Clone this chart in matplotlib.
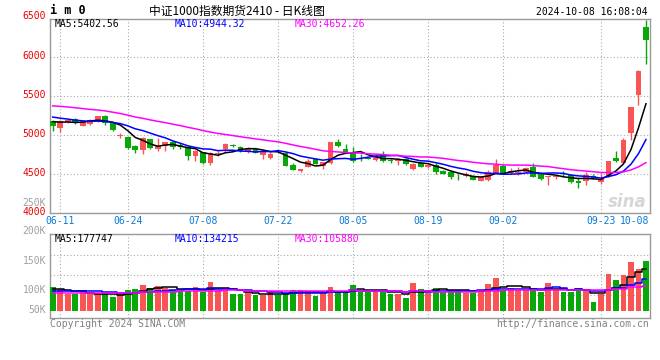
"""
IM2410 (CSI 1000 index futures) daily K-line chart, sina style.
"""

import numpy as np
import pandas as pd
import matplotlib.pyplot as plt
from matplotlib.transforms import blended_transform_factory

# daily bars 06-07 .. 10-08 (80 sessions)
opens = [5179, 5094, 5168, 5210, 5124, 5149, 5176, 5250, 5155, 4995,
         4974, 4859, 4808, 4949, 4825, 4859, 4910, 4881, 4855, 4732,
         4780, 4648, 4765, 4826, 4878, 4848, 4783, 4826, 4752, 4709,
         4785, 4770, 4617, 4539, 4596, 4691, 4604, 4639, 4909, 4826,
         4778, 4735, 4714, 4688, 4765, 4688, 4671, 4693, 4564, 4646,
         4594, 4624, 4539, 4530, 4470, 4479, 4475, 4415, 4424, 4517,
         4611, 4521, 4513, 4534, 4598, 4504, 4462, 4462, 4483, 4487,
         4410, 4419, 4479, 4406, 4483, 4713, 4649, 5024, 5515, 6380]
highs = [5190, 5200, 5200, 5222, 5200, 5209, 5251, 5264, 5170, 5030,
         4983, 4881, 4979, 4957, 4966, 4915, 4923, 4898, 4868, 4808,
         4790, 4791, 4804, 4898, 4891, 4856, 4843, 4835, 4822, 4791,
         4804, 4783, 4648, 4574, 4691, 4704, 4661, 4909, 4952, 4887,
         4851, 4757, 4722, 4765, 4799, 4700, 4714, 4714, 4650, 4660,
         4637, 4646, 4552, 4543, 4500, 4530, 4488, 4475, 4552, 4701,
         4637, 4577, 4598, 4598, 4641, 4513, 4475, 4488, 4543, 4500,
         4449, 4534, 4500, 4513, 4662, 4798, 4960, 5365, 5834, 6470]
lows = [5058, 5045, 5160, 5145, 5115, 5136, 5170, 5136, 5051, 4966,
        4821, 4770, 4766, 4821, 4795, 4795, 4825, 4825, 4689, 4676,
        4630, 4617, 4735, 4791, 4848, 4791, 4770, 4770, 4700, 4700,
        4770, 4609, 4552, 4530, 4587, 4626, 4565, 4630, 4848, 4783,
        4658, 4671, 4690, 4671, 4658, 4650, 4616, 4624, 4552, 4594,
        4586, 4509, 4500, 4445, 4432, 4466, 4424, 4415, 4415, 4517,
        4504, 4504, 4492, 4513, 4462, 4428, 4364, 4445, 4470, 4385,
        4330, 4364, 4445, 4380, 4470, 4662, 4641, 4939, 5387, 5907]
closes = [5115, 5188, 5194, 5153, 5182, 5192, 5240, 5150, 5062, 5005,
          4830, 4808, 4966, 4830, 4859, 4910, 4847, 4855, 4732, 4796,
          4650, 4769, 4772, 4891, 4856, 4800, 4822, 4770, 4804, 4761,
          4780, 4609, 4552, 4574, 4670, 4626, 4661, 4909, 4856, 4791,
          4671, 4728, 4701, 4731, 4671, 4671, 4688, 4637, 4637, 4594,
          4624, 4530, 4500, 4466, 4462, 4509, 4424, 4466, 4530, 4616,
          4504, 4543, 4534, 4577, 4470, 4440, 4479, 4479, 4475, 4406,
          4393, 4487, 4449, 4436, 4665, 4675, 4939, 5365, 5822, 6212]
# volume, thousand lots
volumes = [102, 94, 71, 71, 85, 71, 71, 75, 60, 71,
           90, 94, 111, 98, 106, 97, 90, 85, 85, 102,
           82, 124, 90, 93, 72, 72, 82, 69, 67, 79,
           69, 75, 90, 90, 85, 66, 75, 102, 85, 85,
           111, 82, 82, 90, 82, 72, 72, 54, 118, 94,
           78, 98, 82, 90, 90, 78, 78, 85, 115, 141,
           90, 99, 90, 90, 90, 82, 120, 90, 82, 82,
           94, 94, 39, 72, 158, 132, 153, 211, 180, 212]
# sessions before the window, only used to warm up the moving averages
prior_closes = [5380, 5420, 5455, 5490, 5520, 5475, 5500, 5540, 5510, 5480,
                5500, 5470, 5445, 5420, 5400, 5430, 5410, 5380, 5360, 5345,
                5330, 5310, 5290, 5270, 5260, 5210, 5190, 5180, 5165]
prior_volumes = [70, 72, 75, 70, 66, 64, 70, 74, 78, 72,
                 69, 65, 70, 72, 73, 76, 71, 68, 72, 73,
                 74, 78, 76, 80, 76, 88, 95, 90, 91]

tick_idx = [1, 10, 20, 30, 40, 50, 60, 73, 79]
tick_labels = ["06-11", "06-24", "07-08", "07-22", "08-05", "08-19",
               "09-02", "09-23", "10-08"]
price_ticks = [4000, 4500, 5000, 5500, 6000, 6500]

RED = "#fa5555"
GREEN = "#07a807"
GRID = "#aaaaaa"
MONO = "DejaVu Sans Mono"
FS = 7.0

n = len(closes)
x = np.arange(n)
o = np.array(opens)
c = np.array(closes)
up = c >= o
cols = np.where(up, RED, GREEN)

cl = pd.Series(prior_closes + closes)
vo = pd.Series(prior_volumes + volumes)
k = len(prior_closes)
ma = {w: cl.rolling(w).mean().values[k:] for w in (5, 10, 30)}
vma = {w: vo.rolling(w).mean().values[k:] for w in (5, 10, 30)}

fig = plt.figure(figsize=(6.6, 3.6), dpi=100)


def fx(px):
    return px / 660


def fy(py):
    return 1 - py / 360


ax = fig.add_axes([fx(50), fy(213.4), fx(599.5), 194.4 / 360])
axv = fig.add_axes([fx(50), fy(318), fx(599.5), 83.7 / 360])

for a in (ax, axv):
    a.set_xlim(-0.36, 79.47)
    a.set_axisbelow(True)
    a.tick_params(length=0, labelleft=False, labelbottom=False)
    for s in a.spines.values():
        s.set_color("#999999")
        s.set_linewidth(1)
    a.set_xticks(tick_idx[:-1])
    a.grid(True, color=GRID, linestyle=(0, (1, 2)), linewidth=0.8)

# price panel
ax.set_ylim(4000, 6486)
ax.set_yticks(price_ticks[1:-1])
ax.vlines(x, lows, highs, color=cols, linewidth=1, zorder=2)
body = np.maximum(np.abs(c - o), 6)
ax.bar(x, body, bottom=np.minimum(o, c), width=0.76, color=cols,
       linewidth=0, zorder=3)
ax.plot(x, ma[5], color="black", lw=1.1, zorder=4)
ax.plot(x, ma[10], color="#0000ff", lw=1.1, zorder=4)
ax.plot(x, ma[30], color="#ff00ff", lw=1.1, zorder=4)

tr = blended_transform_factory(ax.transAxes, ax.transData)
for v in price_ticks:
    ax.annotate(str(v), xy=(0, v), xycoords=tr, xytext=(-4, 1.5),
                textcoords="offset pixels", ha="right", va="center",
                color="#ee0000", fontsize=FS, family=MONO,
                annotation_clip=False)
fig.text(fx(46), fy(203), "250K", ha="right", va="center",
         color="#a0a0a0", fontsize=FS, family=MONO)

trx = blended_transform_factory(ax.transData, ax.transAxes)
for i, lbl in zip(tick_idx, tick_labels):
    ha = "right" if i == tick_idx[-1] else "center"
    xi = 79.47 if i == tick_idx[-1] else i
    ax.text(xi, -0.04, lbl, transform=trx, ha=ha, va="center",
            color="#0a78d2", fontsize=FS, family=MONO)

ax.text(0.995, 0.06, "sina", transform=ax.transAxes, ha="right",
        va="center", color="#d6d6d6", fontsize=12, fontweight="bold",
        style="italic")

fig.text(fx(55), fy(24), "MA5:5402.56", color="black", fontsize=FS,
         family=MONO, va="center")
fig.text(fx(175), fy(24), "MA10:4944.32", color="#0000ff", fontsize=FS,
         family=MONO, va="center")
fig.text(fx(295), fy(24), "MA30:4652.26", color="#ff00ff", fontsize=FS,
         family=MONO, va="center")

# volume panel
axv.set_ylim(-30, 327.5)
axv.set_yticks([68, 152, 238])
axv.bar(x, volumes, width=0.76, color=cols, linewidth=0, zorder=3)
axv.plot(x, vma[5], color="black", lw=1.1, drawstyle="steps-mid", zorder=4)
axv.plot(x, vma[10], color="#0000ff", lw=1.1, drawstyle="steps-mid",
         zorder=4)
axv.plot(x, vma[30], color="#ff00ff", lw=1.1, drawstyle="steps-mid",
         zorder=4)

for lbl, py in [("200K", 231), ("150K", 261), ("100K", 290), ("50K", 310)]:
    fig.text(fx(46), fy(py), lbl, ha="right", va="center",
             color="#a0a0a0", fontsize=FS, family=MONO)

fig.text(fx(55), fy(238.5), "MA5:177747", color="black", fontsize=FS,
         family=MONO, va="center")
fig.text(fx(175), fy(238.5), "MA10:134215", color="#0000ff", fontsize=FS,
         family=MONO, va="center")
fig.text(fx(295), fy(238.5), "MA30:105880", color="#ff00ff", fontsize=FS,
         family=MONO, va="center")

# header / footer
fig.text(fx(50), fy(11), "i m 0", fontsize=8.5, family=MONO,
         fontweight="bold", va="center")
fig.text(fx(237), fy(11), "中证1000指数期货2410 - 日K线图", ha="center",
         va="center", fontsize=8.5, family=["Noto Sans CJK SC", "DejaVu Sans"])
fig.text(fx(648), fy(12), "2024-10-08 16:08:04", ha="right", va="center",
         fontsize=FS, family=MONO)
fig.text(fx(50), fy(324), "Copyright 2024 SINA.COM", va="center",
         color="#808080", fontsize=FS, family=MONO)
fig.text(fx(649), fy(324), "http://finance.sina.com.cn", ha="right",
         va="center", color="#808080", fontsize=FS, family=MONO)

fig.savefig("out.png", dpi=100)
